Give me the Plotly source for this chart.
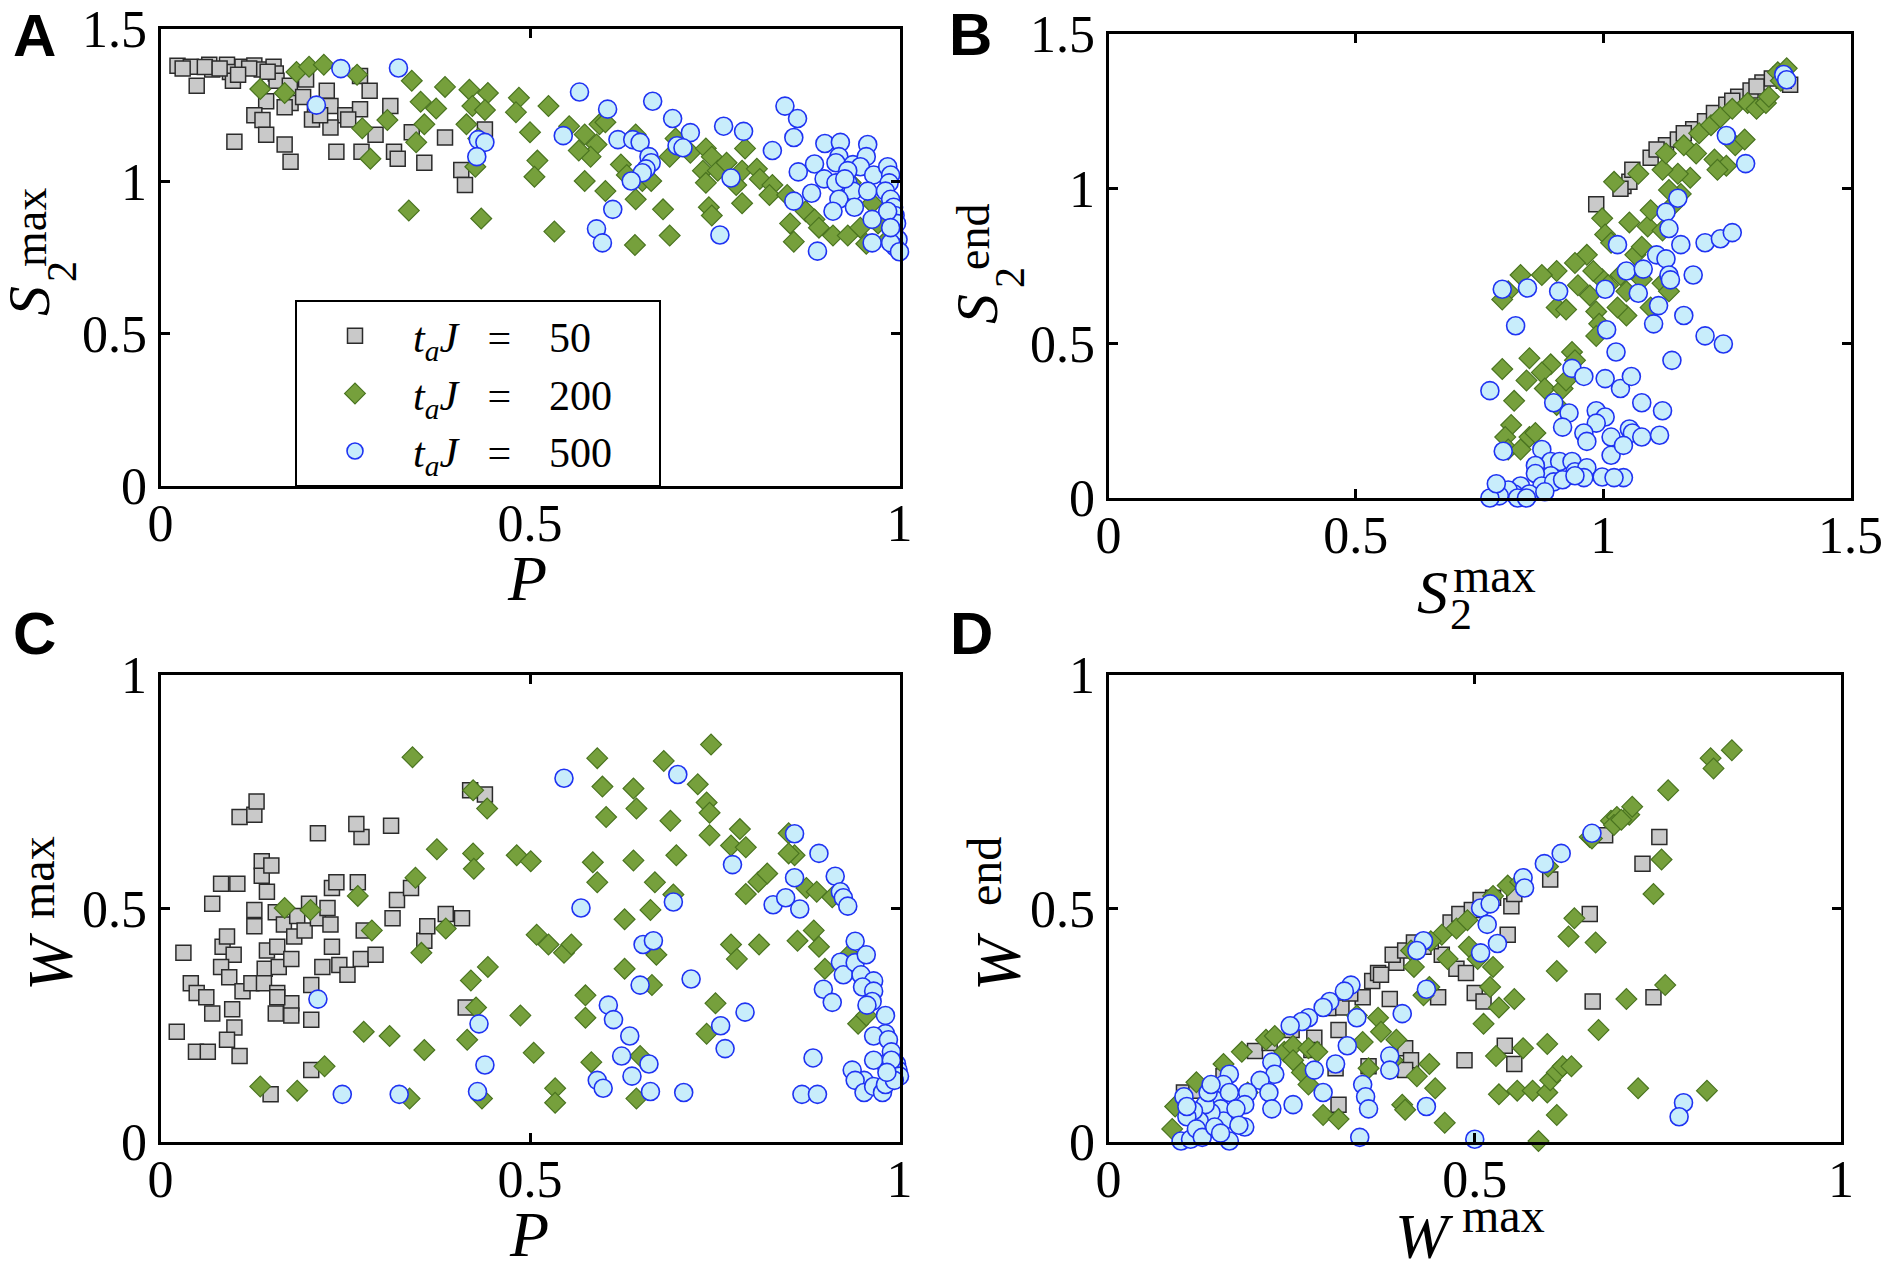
import plotly.graph_objects as go

# ---- panel A : S2max vs P ----
a_sq_p = [0.023, 0.041, 0.066, 0.070, 0.090, 0.094, 0.111, 0.127, 0.137, 0.153,
          0.156, 0.098, 0.049, 0.157, 0.175, 0.197, 0.225, 0.270, 0.283, 0.176,
          0.143, 0.168, 0.193, 0.209, 0.230, 0.250, 0.270, 0.127, 0.138, 0.205,
          0.230, 0.254, 0.311, 0.143, 0.168, 0.176, 0.100, 0.238, 0.272, 0.291,
          0.316, 0.321, 0.340, 0.357, 0.385, 0.407, 0.412, 0.439, 0.216,
          0.030, 0.060, 0.080, 0.120, 0.145, 0.105]
a_sq_s = [1.379, 1.376, 1.383, 1.367, 1.383, 1.359, 1.376, 1.380, 1.367, 1.376,
          1.354, 1.330, 1.314, 1.330, 1.314, 1.334, 1.297, 1.346, 1.297, 1.257,
          1.263, 1.243, 1.277, 1.234, 1.247, 1.217, 1.237, 1.217, 1.201, 1.203,
          1.177, 1.203, 1.247, 1.153, 1.121, 1.064, 1.130, 1.097, 1.097, 1.153,
          1.097, 1.074, 1.161, 1.061, 1.144, 1.037, 0.988, 1.170, 1.217,
          1.370, 1.375, 1.370, 1.370, 1.360, 1.350]

a_di_p = [0.135, 0.168, 0.184, 0.201, 0.221, 0.266, 0.340, 0.385, 0.418, 0.443,
          0.352, 0.373, 0.422, 0.439, 0.307, 0.273, 0.284, 0.346, 0.357, 0.414,
          0.430, 0.485, 0.481, 0.525, 0.500, 0.510, 0.506, 0.336, 0.434, 0.533,
          0.426, 0.553, 0.574, 0.594, 0.590, 0.582, 0.574, 0.602, 0.623, 0.643,
          0.631, 0.652, 0.643, 0.664, 0.680, 0.689, 0.642, 0.697, 0.689, 0.717,
          0.738, 0.746, 0.734, 0.738, 0.754, 0.766, 0.742, 0.746, 0.791, 0.787,
          0.779, 0.787, 0.807, 0.811, 0.828, 0.824, 0.848, 0.852, 0.857, 0.873,
          0.885, 0.891, 0.910, 0.930, 0.922, 0.934, 0.947, 0.955, 0.963, 0.984,
          0.971, 0.602, 0.566]
a_di_s = [1.303, 1.290, 1.359, 1.376, 1.383, 1.350, 1.330, 1.310, 1.301, 1.290,
          1.261, 1.239, 1.247, 1.234, 1.201, 1.174, 1.074, 1.128, 1.187, 1.187,
          1.141, 1.274, 1.227, 1.247, 1.161, 1.068, 1.015, 0.904, 0.878, 0.835,
          1.048, 1.181, 1.154, 1.187, 1.121, 1.081, 1.001, 0.968, 1.055, 1.154,
          1.021, 1.001, 0.941, 1.001, 0.908, 0.822, 0.791, 1.141, 1.081, 1.094,
          1.108, 1.081, 1.035, 0.995, 1.035, 1.061, 0.915, 0.888, 1.108, 1.035,
          0.988, 0.928, 1.041, 1.008, 0.988, 0.955, 0.955, 0.862, 0.802, 0.902,
          0.875, 0.848, 0.822, 0.822, 0.955, 0.995, 0.848, 0.795, 0.928, 0.809,
          0.862, 1.194, 1.101]

a_ci_p = [0.244, 0.322, 0.211, 0.430, 0.439, 0.428, 0.545, 0.567, 0.605, 0.666,
          0.693, 0.717, 0.762, 0.789, 0.619, 0.639, 0.649, 0.661, 0.664, 0.657,
          0.652, 0.637, 0.612, 0.590, 0.598, 0.699, 0.707, 0.772, 0.757, 0.828,
          0.845, 0.862, 0.857, 0.863, 0.885, 0.898, 0.881, 0.857, 0.889, 0.899,
          0.920, 0.957, 0.918, 0.914, 0.937, 0.955, 0.947, 0.965, 0.930, 0.914,
          0.937, 0.957, 0.918, 0.939, 0.910, 0.963, 0.963, 0.984, 0.988, 0.986,
          0.981, 0.988, 0.992, 0.994, 0.996, 0.992, 0.998, 0.994, 0.988, 1.000,
          0.984, 0.988, 0.930, 0.926]
a_ci_s = [1.370, 1.372, 1.250, 1.137, 1.128, 1.081, 1.150, 1.293, 1.237, 1.263,
          1.206, 1.160, 1.181, 1.164, 1.137, 1.137, 1.128, 1.081, 1.061, 1.041,
          1.028, 1.001, 0.908, 0.844, 0.798, 1.117, 1.110, 1.011, 0.824, 1.101,
          1.247, 1.206, 1.144, 1.031, 1.057, 1.008, 0.961, 0.935, 0.771, 1.124,
          1.128, 1.121, 1.081, 1.061, 1.055, 1.081, 1.048, 1.021, 0.995, 0.995,
          0.968, 0.968, 0.941, 0.915, 0.902, 0.875, 0.798, 1.048, 1.021, 0.995,
          0.968, 0.941, 0.915, 0.888, 0.862, 0.835, 0.809, 0.785, 0.798, 0.769,
          0.902, 0.848, 1.035, 1.008]

# ---- panel B : S2end vs S2max ----
b_sq_x = [0.986, 1.041, 1.053, 1.059, 1.096, 1.127, 1.151, 1.182, 1.206, 1.224,
          1.249, 1.273, 1.298, 1.322, 1.341, 1.359, 1.378, 1.365, 1.163, 1.108,
          1.261, 1.310, 1.035]
b_sq_y = [0.950, 1.009, 1.022, 1.061, 1.100, 1.140, 1.159, 1.192, 1.218, 1.245,
          1.271, 1.297, 1.317, 1.343, 1.356, 1.369, 1.336, 1.349, 1.179, 1.127,
          1.284, 1.330, 1.000]

b_di_x = [1.022, 1.071, 0.998, 1.004, 1.016, 0.967, 0.943, 0.906, 0.876, 0.833,
          0.808, 0.796, 0.906, 0.925, 0.973, 0.986, 0.992, 0.986, 0.998, 1.010,
          1.035, 1.047, 1.065, 1.078, 1.053, 1.090, 1.096, 1.139, 1.120, 1.157,
          1.176, 1.133, 1.151, 1.120, 1.127, 1.163, 1.188, 1.194, 1.218, 1.237,
          1.261, 1.292, 1.310, 1.329, 1.335, 1.353, 1.359, 1.371, 1.267, 1.286,
          1.225, 1.249, 1.231, 1.078, 1.096, 1.120, 1.133, 1.047, 1.029, 0.937,
          0.943, 0.894, 0.876, 0.851, 0.845, 0.882, 0.906, 0.918, 0.925, 0.796,
          0.820, 0.814, 0.802, 0.808, 0.833, 0.851, 0.863, 0.949, 0.980]
b_di_y = [1.022, 1.048, 0.904, 0.852, 0.825, 0.786, 0.760, 0.734, 0.721, 0.721,
          0.668, 0.642, 0.616, 0.609, 0.655, 0.603, 0.563, 0.524, 0.707, 0.688,
          0.721, 0.668, 0.786, 0.812, 0.891, 0.878, 0.930, 0.943, 0.865, 0.983,
          1.035, 0.996, 1.048, 1.061, 1.114, 1.140, 1.114, 1.179, 1.205, 1.231,
          1.258, 1.277, 1.258, 1.277, 1.297, 1.376, 1.349, 1.389, 1.140, 1.159,
          1.094, 1.074, 1.061, 0.707, 0.616, 0.694, 0.668, 0.590, 0.616, 0.472,
          0.445, 0.432, 0.406, 0.452, 0.380, 0.354, 0.301, 0.354, 0.380, 0.417,
          0.314, 0.236, 0.197, 0.157, 0.157, 0.197, 0.210, 0.688, 0.734]

b_ci_x = [0.771, 0.796, 0.847, 0.910, 1.004, 0.823, 0.798, 0.876, 1.029, 1.047,
          1.071, 1.081, 1.108, 1.127, 1.133, 1.136, 1.157, 1.182, 1.127, 1.133,
          1.151, 1.206, 1.237, 1.261, 1.249, 1.288, 1.007, 1.026, 1.112, 1.102,
          1.163, 1.139, 1.206, 1.243, 0.937, 0.961, 1.004, 1.035, 1.057, 1.078,
          1.120, 0.900, 0.931, 0.918, 0.986, 1.004, 0.986, 0.961, 0.967, 1.016,
          1.053, 1.016, 1.059, 1.041, 1.078, 1.114, 0.894, 0.863, 0.912, 0.937,
          0.943, 0.967, 0.998, 1.041, 1.022, 0.961, 0.894, 0.863, 0.876, 0.900,
          0.833, 0.820, 0.808, 0.790, 0.771, 0.784, 0.851, 0.882, 0.827, 1.365,
          1.371, 0.918, 0.943, 0.845]
b_ci_y = [0.347, 0.675, 0.679, 0.668, 0.675, 0.557, 0.151, 0.157, 0.819, 0.734,
          0.662, 0.740, 0.786, 0.773, 0.721, 0.705, 0.819, 0.721, 0.924, 0.871,
          0.969, 0.825, 0.838, 0.858, 1.172, 1.081, 0.544, 0.472, 0.622, 0.563,
          0.590, 0.445, 0.524, 0.498, 0.419, 0.393, 0.386, 0.354, 0.393, 0.308,
          0.282, 0.308, 0.275, 0.229, 0.282, 0.262, 0.242, 0.210, 0.183, 0.197,
          0.223, 0.138, 0.210, 0.170, 0.197, 0.203, 0.118, 0.105, 0.118, 0.118,
          0.085, 0.098, 0.068, 0.066, 0.066, 0.066, 0.072, 0.079, 0.039, 0.052,
          0.039, 0.013, 0.026, 0.007, 0.000, 0.046, 0.013, 0.020, 0.000, 1.369,
          1.352, 0.059, 0.072, 0.000]

# ---- panel C : Wmax vs P ----
c_sq_p = [0.022, 0.031, 0.041, 0.049, 0.048, 0.064, 0.062, 0.070, 0.070, 0.082,
          0.104, 0.107, 0.127, 0.130, 0.084, 0.090, 0.099, 0.082, 0.093, 0.097,
          0.100, 0.090, 0.107, 0.111, 0.123, 0.127, 0.127, 0.137, 0.137, 0.144,
          0.150, 0.144, 0.141, 0.140, 0.158, 0.156, 0.167, 0.158, 0.160, 0.156,
          0.177, 0.177, 0.177, 0.181, 0.185, 0.195, 0.201, 0.204, 0.204, 0.213,
          0.213, 0.226, 0.230, 0.232, 0.232, 0.238, 0.219, 0.242, 0.253, 0.267,
          0.272, 0.265, 0.271, 0.291, 0.275, 0.312, 0.314, 0.320, 0.339, 0.357,
          0.361, 0.386, 0.408, 0.413, 0.419, 0.439, 0.204, 0.149, 0.158]
c_sq_w = [0.236, 0.405, 0.340, 0.319, 0.193, 0.193, 0.310, 0.275, 0.510, 0.553,
          0.553, 0.696, 0.701, 0.729, 0.418, 0.440, 0.401, 0.375, 0.353, 0.284,
          0.245, 0.219, 0.184, 0.323, 0.340, 0.462, 0.497, 0.601, 0.570, 0.536,
          0.592, 0.410, 0.371, 0.340, 0.319, 0.492, 0.466, 0.418, 0.375, 0.275,
          0.297, 0.271, 0.392, 0.440, 0.484, 0.453, 0.510, 0.336, 0.262, 0.661,
          0.479, 0.501, 0.466, 0.418, 0.544, 0.556, 0.375, 0.379, 0.358, 0.556,
          0.653, 0.681, 0.392, 0.401, 0.453, 0.677, 0.479, 0.518, 0.544, 0.431,
          0.462, 0.488, 0.479, 0.288, 0.753, 0.744, 0.154, 0.102, 0.310]

c_di_p = [0.135, 0.185, 0.168, 0.203, 0.222, 0.267, 0.275, 0.286, 0.310, 0.341,
          0.345, 0.353, 0.357, 0.337, 0.374, 0.386, 0.415, 0.423, 0.442, 0.423,
          0.424, 0.420, 0.427, 0.435, 0.443, 0.482, 0.501, 0.487, 0.505, 0.509,
          0.525, 0.546, 0.556, 0.534, 0.534, 0.575, 0.575, 0.583, 0.585, 0.591,
          0.591, 0.598, 0.603, 0.628, 0.628, 0.640, 0.640, 0.644, 0.644, 0.649,
          0.663, 0.665, 0.669, 0.671, 0.681, 0.690, 0.694, 0.698, 0.727, 0.739,
          0.743, 0.743, 0.745, 0.751, 0.739, 0.772, 0.772, 0.780, 0.784, 0.792,
          0.792, 0.810, 0.809, 0.821, 0.850, 0.858, 0.862, 0.874, 0.884, 0.888,
          0.891, 0.899, 0.909, 0.932, 0.944, 0.955, 0.850]
c_di_w = [0.119, 0.110, 0.501, 0.497, 0.162, 0.527, 0.236, 0.453, 0.227, 0.824,
          0.566, 0.405, 0.197, 0.093, 0.627, 0.457, 0.219, 0.753, 0.714, 0.618,
          0.585, 0.346, 0.288, 0.093, 0.375, 0.614, 0.601, 0.271, 0.191, 0.444,
          0.423, 0.405, 0.423, 0.115, 0.084, 0.314, 0.266, 0.171, 0.599, 0.556,
          0.822, 0.761, 0.696, 0.477, 0.371, 0.603, 0.757, 0.714, 0.093, 0.184,
          0.497, 0.336, 0.556, 0.401, 0.816, 0.688, 0.530, 0.614, 0.766, 0.727,
          0.705, 0.657, 0.851, 0.297, 0.232, 0.423, 0.635, 0.392, 0.670, 0.631,
          0.531, 0.423, 0.557, 0.575, 0.661, 0.614, 0.431, 0.544, 0.453, 0.536,
          0.418, 0.371, 0.524, 0.401, 0.253, 0.271, 0.618]

c_ci_p = [0.213, 0.246, 0.323, 0.429, 0.431, 0.439, 0.546, 0.569, 0.591, 0.599,
          0.606, 0.613, 0.635, 0.624, 0.638, 0.649, 0.653, 0.667, 0.661, 0.663,
          0.694, 0.700, 0.708, 0.718, 0.758, 0.764, 0.774, 0.791, 0.829, 0.846,
          0.858, 0.858, 0.865, 0.883, 0.868, 0.889, 0.891, 0.897, 0.909, 0.913,
          0.920, 0.924, 0.930, 0.920, 0.924, 0.940, 0.940, 0.955, 0.948, 0.965,
          0.950, 0.965, 0.963, 0.956, 0.981, 0.981, 0.965, 0.985, 0.989, 0.981,
          0.965, 0.952, 0.936, 0.940, 0.952, 0.965, 0.977, 0.981, 0.989, 0.996,
          0.998, 0.989, 1.000, 0.993, 0.983]
c_ci_w = [0.306, 0.102, 0.102, 0.108, 0.253, 0.165, 0.779, 0.501, 0.132, 0.115,
          0.293, 0.262, 0.227, 0.184, 0.141, 0.336, 0.423, 0.431, 0.167, 0.108,
          0.514, 0.787, 0.106, 0.349, 0.249, 0.200, 0.594, 0.278, 0.508, 0.523,
          0.660, 0.566, 0.499, 0.180, 0.102, 0.102, 0.618, 0.327, 0.299, 0.569,
          0.536, 0.523, 0.505, 0.385, 0.358, 0.430, 0.384, 0.401, 0.358, 0.345,
          0.332, 0.323, 0.301, 0.293, 0.271, 0.232, 0.227, 0.219, 0.193, 0.167,
          0.175, 0.132, 0.154, 0.132, 0.106, 0.119, 0.106, 0.123, 0.149, 0.167,
          0.154, 0.175, 0.141, 0.132, 0.149]

# ---- panel D : Wend vs Wmax ----
d_sq_x = [0.103, 0.157, 0.281, 0.314, 0.277, 0.314, 0.310, 0.347, 0.360, 0.368,
          0.372, 0.393, 0.388, 0.405, 0.417, 0.430, 0.467, 0.479, 0.496, 0.508,
          0.525, 0.550, 0.554, 0.545, 0.455, 0.475, 0.488, 0.500, 0.512, 0.450,
          0.384, 0.355, 0.405, 0.413, 0.405, 0.541, 0.554, 0.486, 0.603, 0.657,
          0.678, 0.752, 0.729, 0.661, 0.744, 0.318,
          0.200, 0.220, 0.250, 0.300, 0.330, 0.440, 0.120]
d_sq_y = [0.106, 0.141, 0.223, 0.240, 0.197, 0.080, 0.158, 0.310, 0.345, 0.362,
          0.358, 0.384, 0.401, 0.410, 0.427, 0.418, 0.470, 0.488, 0.497, 0.518,
          0.523, 0.505, 0.531, 0.444, 0.401, 0.371, 0.362, 0.319, 0.301, 0.310,
          0.306, 0.162, 0.201, 0.175, 0.154, 0.206, 0.167, 0.175, 0.562, 0.488,
          0.657, 0.653, 0.596, 0.301, 0.310, 0.288,
          0.195, 0.212, 0.240, 0.287, 0.318, 0.430, 0.110]

d_di_x = [0.087, 0.091, 0.120, 0.157, 0.182, 0.190, 0.215, 0.227, 0.240, 0.252,
          0.252, 0.264, 0.273, 0.285, 0.273, 0.293, 0.314, 0.339, 0.347, 0.355,
          0.368, 0.372, 0.393, 0.388, 0.401, 0.405, 0.421, 0.438, 0.446, 0.459,
          0.413, 0.417, 0.430, 0.438, 0.455, 0.475, 0.463, 0.492, 0.504, 0.525,
          0.521, 0.533, 0.554, 0.512, 0.529, 0.566, 0.599, 0.533, 0.558, 0.579,
          0.599, 0.603, 0.612, 0.620, 0.632, 0.612, 0.587, 0.525, 0.545, 0.562,
          0.612, 0.628, 0.636, 0.665, 0.669, 0.657, 0.686, 0.694, 0.711, 0.715,
          0.764, 0.744, 0.755, 0.760, 0.707, 0.723, 0.817, 0.822, 0.826, 0.851,
          0.690, 0.440, 0.490, 0.600, 0.660, 0.700]
d_di_y = [0.028, 0.076, 0.128, 0.167, 0.193, 0.106, 0.219, 0.227, 0.193, 0.206,
          0.175, 0.149, 0.201, 0.193, 0.123, 0.058, 0.049, 0.271, 0.214, 0.158,
          0.266, 0.236, 0.219, 0.175, 0.080, 0.069, 0.141, 0.167, 0.115, 0.041,
          0.410, 0.375, 0.314, 0.332, 0.444, 0.457, 0.392, 0.418, 0.392, 0.375,
          0.332, 0.288, 0.306, 0.253, 0.184, 0.201, 0.210, 0.102, 0.110, 0.110,
          0.106, 0.132, 0.149, 0.162, 0.162, 0.058, 0.002, 0.527, 0.549, 0.557,
          0.366, 0.440, 0.479, 0.427, 0.240, 0.653, 0.688, 0.696, 0.701, 0.718,
          0.753, 0.531, 0.605, 0.336, 0.306, 0.115, 0.110, 0.822, 0.800, 0.839,
          0.679, 0.430, 0.475, 0.590, 0.650, 0.690]

d_ci_x = [0.660, 0.618, 0.595, 0.566, 0.568, 0.508, 0.521, 0.517, 0.531, 0.508,
          0.430, 0.421, 0.434, 0.331, 0.322, 0.302, 0.293, 0.273, 0.264, 0.248,
          0.339, 0.401, 0.326, 0.310, 0.281, 0.223, 0.227, 0.207, 0.219, 0.223,
          0.252, 0.293, 0.347, 0.351, 0.355, 0.384, 0.384, 0.434, 0.343, 0.500,
          0.785, 0.779, 0.165, 0.190, 0.186, 0.186, 0.165, 0.149, 0.153, 0.157,
          0.140, 0.132, 0.124, 0.116, 0.103, 0.107, 0.099, 0.112, 0.120, 0.128,
          0.145, 0.153, 0.157, 0.165, 0.174, 0.178, 0.136, 0.140, 0.107]
d_ci_y = [0.661, 0.618, 0.596, 0.566, 0.544, 0.501, 0.510, 0.466, 0.425, 0.405,
          0.431, 0.410, 0.327, 0.336, 0.323, 0.301, 0.288, 0.266, 0.258, 0.249,
          0.266, 0.275, 0.206, 0.167, 0.154, 0.171, 0.145, 0.132, 0.106, 0.071,
          0.080, 0.106, 0.123, 0.097, 0.071, 0.184, 0.154, 0.076, 0.010, 0.006,
          0.084, 0.054, 0.145, 0.106, 0.032, 0.080, 0.002, 0.097, 0.071, 0.045,
          0.063, 0.080, 0.045, 0.067, 0.097, 0.054, 0.002, 0.006, 0.028, 0.010,
          0.032, 0.019, 0.123, 0.106, 0.071, 0.036, 0.106, 0.123, 0.076]

eq = "\u2002\u2009=\u2009\u2009\u2002"
tail = "\u2002\u2002"
series_names = ["<i>t</i><sub><i>a</i></sub><i>J</i>" + eq + "50" + tail,
                "<i>t</i><sub><i>a</i></sub><i>J</i>" + eq + "200" + tail,
                "<i>t</i><sub><i>a</i></sub><i>J</i>" + eq + "500" + tail]

# the page adds an 8 px body margin, so the figure is drawn 16 px smaller
# and every page position below is shifted by that margin
PAGE_W, PAGE_H, PAD = 1890, 1269, 8
W, H = PAGE_W - 2 * PAD, PAGE_H - 2 * PAD
SERIF = "Liberation Serif"


def fx(px):
    return (px - PAD) / W


def fy(py):
    return 1 - (py - PAD) / H


sq_marker = dict(symbol="square", size=15, color="#c9c9c9",
                 line=dict(color="#2b2b2b", width=1.5))
di_marker = dict(symbol="diamond", size=16, color="#76a03c",
                 line=dict(color="#4a7420", width=1.2))
ci_marker = dict(symbol="circle", size=18, color="#c8edfb",
                 line=dict(color="#1f33f2", width=1.6))

fig = go.Figure()

panels = [
    ("x", "y", (a_sq_p, a_sq_s), (a_di_p, a_di_s), (a_ci_p, a_ci_s)),
    ("x2", "y2", (b_sq_x, b_sq_y), (b_di_x, b_di_y), (b_ci_x, b_ci_y)),
    ("x3", "y3", (c_sq_p, c_sq_w), (c_di_p, c_di_w), (c_ci_p, c_ci_w)),
    ("x4", "y4", (d_sq_x, d_sq_y), (d_di_x, d_di_y), (d_ci_x, d_ci_y)),
]
for i, (xa, ya, sq, di, ci) in enumerate(panels):
    for (xs, ys), mk, nm in zip([sq, di, ci], [sq_marker, di_marker, ci_marker], series_names):
        fig.add_trace(go.Scatter(x=xs, y=ys, mode="markers", xaxis=xa, yaxis=ya,
                                 marker=mk, name=nm, showlegend=(i == 0),
                                 cliponaxis=False))


def axis(dom, rng, tv, anchor, standoff):
    return dict(domain=dom, range=rng, tickvals=tv, anchor=anchor,
                automargin=False, ticklabeloverflow="allow",
                showline=True, linecolor="black", linewidth=3, mirror="ticks",
                ticks="inside", ticklen=9, tickwidth=2.5, tickcolor="black",
                showgrid=False, zeroline=False, ticklabelstandoff=standoff,
                tickfont=dict(family=SERIF, size=52, color="black"))


xa_dom = [fx(160.5), fx(899.5)]
xb_dom = [fx(1108.5), fx(1850.5)]
xd_dom = [fx(1108.5), fx(1841)]
ya_dom = [fy(486), fy(29)]
yb_dom = [fy(498), fy(34)]
yc_dom = [fy(1142), fy(675)]

t1 = [0, 0.5, 1]
t15 = [0, 0.5, 1, 1.5]
XS, YS = -10, 0


def ann(text, x, y, size, angle=0, family=SERIF):
    return dict(text=text, x=fx(x), y=fy(y), xref="paper", yref="paper",
                showarrow=False, xanchor="center", yanchor="middle",
                textangle=angle, font=dict(family=family, size=size, color="black"))


annotations = [
    ann("<b>A</b>", 34, 36, 60, family="Liberation Sans"),
    ann("<b>B</b>", 970, 35, 60, family="Liberation Sans"),
    ann("<b>C</b>", 34, 633, 60, family="Liberation Sans"),
    ann("<b>D</b>", 971, 633, 60, family="Liberation Sans"),
    # A labels
    ann("<i>P</i>", 527, 578, 64),
    ann("<i>S</i>", 29, 301, 60, -90),
    ann("2", 62, 272, 42, -90),
    ann("max", 30, 228, 46, -90),
    # B labels
    ann("<i>S</i>", 1432, 592, 62),
    ann("max", 1494, 575, 48),
    ann("2", 1461, 614, 44),
    ann("<i>S</i>", 977, 309, 60, -90),
    ann("2", 1010, 278, 42, -90),
    ann("end", 973, 237, 46, -90),
    # C labels
    ann("<i>P</i>", 529, 1234, 64),
    ann("<i>W</i>", 50, 962, 64, -90),
    ann("max", 38, 878, 48, -90),
    # D labels
    ann("<i>W</i>", 1424, 1236, 64),
    ann("max", 1503, 1215, 48),
    ann("<i>W</i>", 998, 962, 64, -90),
    ann("end", 984, 872, 48, -90),
]

fig.update_layout(
    width=W, height=H,
    margin=dict(l=0, r=0, t=0, b=0, autoexpand=False),
    plot_bgcolor="white", paper_bgcolor="white",
    xaxis=axis(xa_dom, [0, 1], t1, "y", XS),
    yaxis=axis(ya_dom, [0, 1.5], t15, "x", YS),
    xaxis2=axis(xb_dom, [0, 1.5], t15, "y2", XS),
    yaxis2=axis(yb_dom, [0, 1.5], t15, "x2", YS),
    xaxis3=axis(xa_dom, [0, 1], t1, "y3", XS),
    yaxis3=axis(yc_dom, [0, 1], t1, "x3", YS),
    xaxis4=axis(xd_dom, [0, 1], t1, "y4", XS),
    yaxis4=axis(yc_dom, [0, 1], t1, "x4", YS),
    showlegend=True,
    legend=dict(x=fx(295), y=fy(487), xanchor="left", yanchor="bottom",
                bordercolor="black", borderwidth=2, bgcolor="white",
                font=dict(family=SERIF, size=42, color="black"),
                itemwidth=106, tracegroupgap=0),
    annotations=annotations,
)

fig.write_html("out.html")
